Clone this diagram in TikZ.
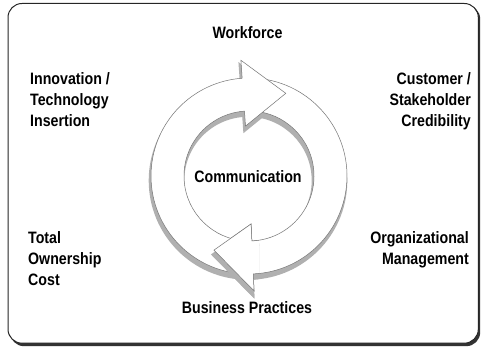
\documentclass[tikz,border=0pt]{standalone}
\usepackage{fontspec}
\setmainfont[FakeStretch=0.86]{Liberation Sans}
\begin{document}
\begin{tikzpicture}[x=1pt,y=1pt,
  lbl/.style={font=\fontsize{16.5}{18}\selectfont\bfseries, inner sep=0pt},
  arrowbody/.style={fill=white, draw=black!55, line width=0.5pt},
  arrowshade/.style={fill=gray!62, draw=gray!62, line width=2.6pt},
  pathA/.style={insert path={(267:98) arc[start angle=267,end angle=94,radius=98]
      -- (94:116) -- (66:90.5) -- (94:50) -- (94:65)
      arc[start angle=94,end angle=267,radius=65] -- cycle}},
  pathB/.style={insert path={(88:98) arc[start angle=88,end angle=-87.5,radius=98]
      -- (272.5:115) -- (244.7:82) -- (272.5:48) -- (272.5:65)
      arc[start angle=-87.5,end angle=88,radius=65] -- cycle}}]
\useasboundingbox (0,0) rectangle (481,347);
% frame with its shadow
\fill[black!80, rounded corners=14pt] (10,0.8) rectangle (480.2,342);
\filldraw[fill=white, draw=black!85, line width=1pt, rounded corners=14pt]
  (8,3.8) rectangle (478.3,343.5);
% cycle of two arrows
\begin{scope}[shift={(249,171)}]
  \path[shift={(-1,-4.5)}, arrowshade, pathB];
  \path[shift={(-1,-4.5)}, arrowshade, pathA];
  \path[arrowbody, pathB];
  \path[arrowbody, pathA];
  \begin{scope}
    \clip (-52,-129) rectangle (10,-34);
    \path[shift={(-1,-4.5)}, arrowshade, pathB];
    \path[arrowbody, pathB];
  \end{scope}
\end{scope}
% labels
\node[lbl, anchor=base] (work) at (247.5,308.5) {Workforce};
\node[lbl, anchor=base] (comm) at (248,164) {Communication};
\node[lbl, anchor=base] (bus) at (247,33) {Business Practices};
\node[lbl, anchor=base west] (inno1) at (30,262) {Innovation /};
\node[lbl, anchor=base west] (inno2) at (30,241) {Technology};
\node[lbl, anchor=base west] (inno3) at (30,220) {Insertion};
\node[lbl, anchor=base east] (cust1) at (471,262) {Customer /};
\node[lbl, anchor=base east] (cust2) at (471,241) {Stakeholder};
\node[lbl, anchor=base east] (cust3) at (471,220) {Credibility};
\node[lbl, anchor=base west] (tot1) at (28,103) {Total};
\node[lbl, anchor=base west] (tot2) at (28,82) {Ownership};
\node[lbl, anchor=base west] (tot3) at (28,61) {Cost};
\node[lbl, anchor=base east] (org1) at (469,103) {Organizational};
\node[lbl, anchor=base east] (org2) at (469,82) {Management};
\end{tikzpicture}
\end{document}
